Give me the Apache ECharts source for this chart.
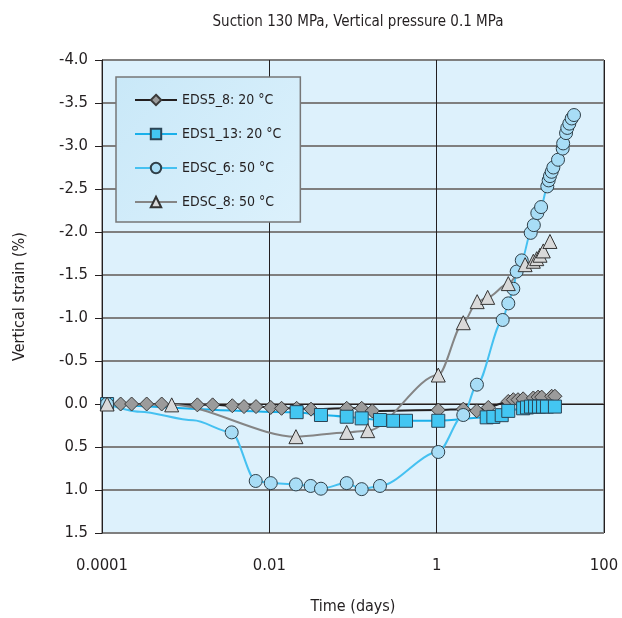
<!DOCTYPE html>
<html><head><meta charset="utf-8">
<script src="https://cdn.jsdelivr.net/npm/echarts@6/dist/echarts.min.js"></script>
<style>html,body{margin:0;padding:0;background:#fff}#c{width:622px;height:618px}</style>
</head><body><div id="c"></div>
<script>
const FONT = '"Liberation Sans Narrow","DejaVu Sans Condensed","Roboto Condensed",sans-serif';
const xTickLabels = ["0.0001","0.001","0.01","0.1","1","10","100"];

const eds5_t = [0.000115,0.000167,0.000226,0.000342,0.000517,0.00138,0.0021,0.00361,0.00498,0.00693,0.0104,0.014,0.0212,0.0315,0.0841,0.127,0.17,1.045,2.08,3.01,4.14,7.18,8.24,9.38,10.8,14.3,16.3,18.0,23.7,25.9];
const eds5_v = [0,0,0,0,0,0.01,0.01,0.02,0.03,0.03,0.04,0.05,0.05,0.06,0.05,0.05,0.08,0.07,0.06,0.08,0.04,-0.03,-0.05,-0.05,-0.06,-0.07,-0.08,-0.08,-0.09,-0.09];

const eds1_t = [0.000115,0.0212,0.0414,0.0841,0.127,0.21,0.303,0.43,1.045,3.96,4.76,5.99,7.18,10.8,12.0,13.4,15.0,16.7,18.7,20.8,25.9];
const eds1_v = [0,0.095,0.128,0.148,0.167,0.186,0.195,0.195,0.195,0.155,0.15,0.13,0.08,0.05,0.04,0.03,0.03,0.03,0.03,0.03,0.03];

const edsc6_t = [0.000115,0.000284,0.00123,0.00355,0.00687,0.0104,0.0208,0.0312,0.0414,0.0841,0.127,0.21,1.045,2.08,3.03,6.15,7.18,8.24,9.04,10.4,13.3,14.5,15.96,17.7,21.0,21.8,22.6,23.7,24.8,28.2,32.1,32.5,35.2,36.4,38.5,41.1,43.8];
const edsc6_v = [0,0.09,0.19,0.33,0.895,0.92,0.935,0.953,0.985,0.92,0.99,0.953,0.558,0.128,-0.225,-0.977,-1.17,-1.34,-1.54,-1.67,-1.99,-2.08,-2.22,-2.29,-2.53,-2.6,-2.65,-2.7,-2.75,-2.84,-2.97,-3.03,-3.15,-3.21,-3.26,-3.32,-3.36];
const edsc6_noMarker = [1,2];

const edsc8_t = [0.000115,0.000681,0.0208,0.0841,0.15,1.045,2.08,3.05,4.07,7.18,11.4,14.3,15.7,17.2,18.8,22.6];
const edsc8_v = [0,0.01,0.38,0.33,0.31,-0.337,-0.945,-1.19,-1.24,-1.40,-1.62,-1.66,-1.69,-1.73,-1.78,-1.89];

function pairs(t, v, hide) {
  return t.map((x, i) => (hide && hide.indexOf(i) >= 0) ? {value: [x, v[i]], symbol: 'none'} : [x, v[i]]);
}

const chart = echarts.init(document.getElementById('c'), null, {renderer: 'canvas'});
const common = {type: 'line', smooth: 0.3, smoothMonotone: 'x', symbolSize: 12, z: 3};
chart.setOption({
  animation: false,
  textStyle: {fontFamily: FONT},
  title: {text: 'Suction 130 MPa, Vertical pressure 0.1 MPa', left: 353, top: 10, textAlign: 'center',
    textStyle: {fontFamily: FONT, fontSize: 15, fontWeight: 'normal', color: '#231f20'}},
  grid: {left: 102, right: 18, top: 60, bottom: 85, outerBoundsMode: 'none', containLabel: false,
    show: true, backgroundColor: '#ddf1fc', borderColor: '#444', borderWidth: 1},
  legend: {
    orient: 'vertical', left: 116, top: 77, itemWidth: 42, itemHeight: 13, itemGap: 20,
    padding: [16, 19, 13, 18], backgroundColor: {type: 'linear', x: 0, y: 0, x2: 1, y2: 1,
      colorStops: [{offset: 0, color: '#c9e8f8'}, {offset: 1, color: '#dcf1fc'}]},
    borderColor: '#777', borderWidth: 1.5,
    textStyle: {fontFamily: FONT, fontSize: 14, color: '#231f20'},
    data: ['EDS5_8: 20 °C','EDS1_13: 20 °C','EDSC_6: 50 °C','EDSC_8: 50 °C']
  },
  xAxis: {
    type: 'log', logBase: 10, min: 0.0001, max: 100, interval: 2,
    name: 'Time (days)', nameLocation: 'middle', nameGap: 66,
    nameTextStyle: {fontFamily: FONT, fontSize: 16, color: '#231f20'},
    axisLine: {lineStyle: {color: '#231f20', width: 1}},
    axisTick: {show: true, inside: true, length: 5, lineStyle: {color: '#231f20'}},
    axisLabel: {margin: 24, fontSize: 16.5, color: '#231f20', fontFamily: FONT,
      formatter: v => xTickLabels[Math.round(Math.log10(v)) + 4]},
    splitLine: {show: true, lineStyle: {color: '#231f20', width: 1}},
    minorTick: {show: false}, minorSplitLine: {show: false}
  },
  yAxis: {
    type: 'value', inverse: true, min: -4, max: 1.5, interval: 0.5,
    name: 'Vertical strain (%)', nameLocation: 'middle', nameGap: 74,
    nameTextStyle: {fontFamily: FONT, fontSize: 16, color: '#231f20'},
    axisLine: {show: true, lineStyle: {color: '#231f20', width: 1}},
    axisTick: {show: true, length: 7, lineStyle: {color: '#231f20'}},
    axisLabel: {margin: 14, fontSize: 16.5, color: '#231f20', fontFamily: FONT, formatter: v => v.toFixed(1)},
    splitLine: {show: true, lineStyle: {color: '#7f7f7f', width: 2}}
  },
  series: [
    Object.assign({}, common, {name: 'EDS5_8: 20 °C', symbol: 'diamond', symbolSize: 14,
      lineStyle: {color: '#231f20', width: 2},
      itemStyle: {color: '#9b9b9b', borderColor: '#3a3a3a', borderWidth: 1},
      data: pairs(eds5_t, eds5_v)}),
    Object.assign({}, common, {name: 'EDS1_13: 20 °C', symbol: 'rect', symbolSize: 13,
      lineStyle: {color: '#1ab0ea', width: 2},
      itemStyle: {color: '#43c6f2', borderColor: '#2b4455', borderWidth: 1},
      data: pairs(eds1_t, eds1_v)}),
    Object.assign({}, common, {name: 'EDSC_6: 50 °C', symbol: 'circle', symbolSize: 13,
      lineStyle: {color: '#45c1f1', width: 2},
      itemStyle: {color: '#a8ddf6', borderColor: '#2f3f48', borderWidth: 1},
      data: pairs(edsc6_t, edsc6_v, edsc6_noMarker)}),
    Object.assign({}, common, {name: 'EDSC_8: 50 °C', symbol: 'triangle', symbolSize: 14,
      lineStyle: {color: '#858585', width: 2},
      itemStyle: {color: '#d9d9d9', borderColor: '#333', borderWidth: 1},
      data: pairs(edsc8_t, edsc8_v)})
  ]
});
</script></body></html>
